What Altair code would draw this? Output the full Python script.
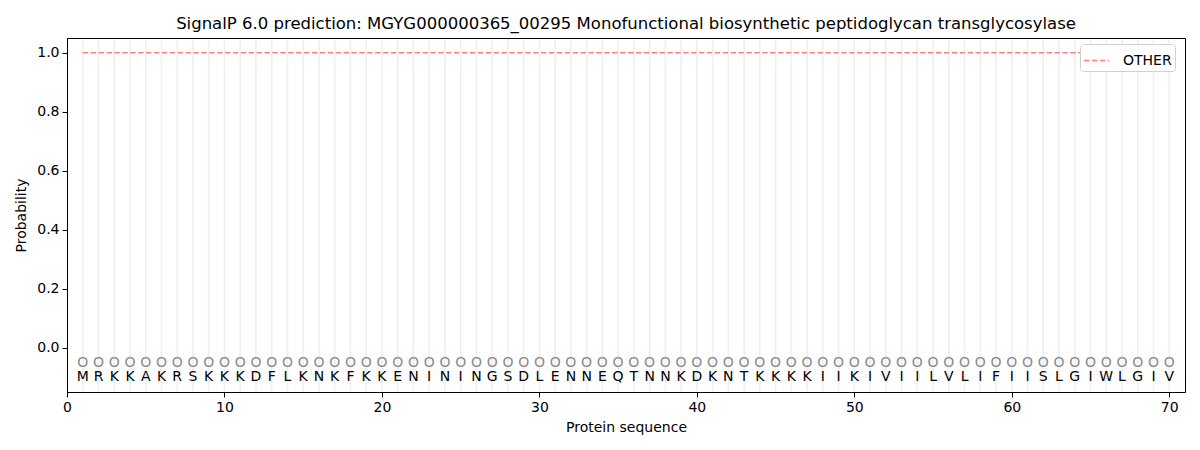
import altair as alt
import pandas as pd

residues = list("MRKKAKRSKKKDFLKNKFKKENININGSDLENNEQTNNKDKNTKKKKIIKIVIILVLIFIISLGIWLGIV")
positions = list(range(1, 71))
prob_other = [1.0, 1.0, 1.0, 1.0, 1.0, 1.0, 1.0, 1.0, 1.0, 1.0,
              1.0, 1.0, 1.0, 1.0, 1.0, 1.0, 1.0, 1.0, 1.0, 1.0,
              1.0, 1.0, 1.0, 1.0, 1.0, 1.0, 1.0, 1.0, 1.0, 1.0,
              1.0, 1.0, 1.0, 1.0, 1.0, 1.0, 1.0, 1.0, 1.0, 1.0,
              1.0, 1.0, 1.0, 1.0, 1.0, 1.0, 1.0, 1.0, 1.0, 1.0,
              1.0, 1.0, 1.0, 1.0, 1.0, 1.0, 1.0, 1.0, 1.0, 1.0,
              1.0, 1.0, 1.0, 1.0, 1.0, 1.0, 1.0, 1.0, 1.0, 1.0]
pred_labels = ["O"] * 70
label_y = -0.05
residue_y = -0.1
x_ticks = [0, 10, 20, 30, 40, 50, 60, 70]
y_ticks = [0.0, 0.2, 0.4, 0.6, 0.8, 1.0]

df = pd.DataFrame({
    "pos": positions,
    "res": residues,
    "prob": prob_other,
    "lab": pred_labels,
    "series": ["OTHER"] * 70,
})

FONT = "DejaVu Sans"
FS = 14
xs = alt.Scale(domain=[0, 71], nice=False, zero=False)
ys = alt.Scale(domain=[-0.15, 1.05], nice=False, zero=False)

xaxis = alt.Axis(values=x_ticks, title="Protein sequence", grid=False, labelFontSize=FS,
                 titleFontSize=FS, labelFont=FONT, titleFont=FONT, labelColor="black",
                 titleColor="black", tickColor="black", domainColor="black", tickSize=5,
                 labelPadding=3, titlePadding=6, titleFontWeight="normal", format="d",
                 labelFlush=False)
yaxis = alt.Axis(values=y_ticks, title="Probability", grid=False, labelFontSize=FS,
                 titleFontSize=FS, labelFont=FONT, titleFont=FONT, labelColor="black",
                 titleColor="black", tickColor="black", domainColor="black", tickSize=5,
                 labelPadding=3, titlePadding=8, titleFontWeight="normal", format=".1f",
                 labelFlush=False)

base = alt.Chart(df)

grid = base.mark_rule(color="#efefef", strokeWidth=1.6).encode(
    x=alt.X("pos:Q", scale=xs, axis=xaxis),
    y=alt.value(1),
    y2=alt.value(353),
)

line = base.mark_line(strokeDash=[5.5, 2.4], strokeWidth=1.6).encode(
    x=alt.X("pos:Q", scale=xs, axis=xaxis),
    y=alt.Y("prob:Q", scale=ys, axis=yaxis),
    color=alt.Color("series:N",
                    scale=alt.Scale(domain=["OTHER"], range=["#ff8080"]),
                    legend=alt.Legend(title=None, orient="none", legendX=1013, legendY=6,
                                      symbolType="stroke", symbolStrokeWidth=1.6,
                                      symbolDash=[5.5, 2.4], symbolSize=625,
                                      labelFontSize=FS, labelFont=FONT, labelColor="black",
                                      strokeColor="#d0d0d0", cornerRadius=3, padding=3,
                                      fillColor="white", labelOffset=13)),
)

marks_o = base.mark_text(fontSize=FS, font=FONT, color="#8a8a8a").encode(
    x=alt.X("pos:Q", scale=xs, axis=xaxis),
    y=alt.Y("y:Q", scale=ys, axis=yaxis),
    text="lab:N",
).transform_calculate(y=str(label_y))

letters = base.mark_text(fontSize=FS, font=FONT, color="black").encode(
    x=alt.X("pos:Q", scale=xs, axis=xaxis),
    y=alt.Y("y:Q", scale=ys, axis=yaxis),
    text="res:N",
).transform_calculate(y=str(residue_y))

chart = alt.layer(grid, line, marks_o, letters).properties(
    width=1118, height=354,
    title=alt.Title("SignalP 6.0 prediction: MGYG000000365_00295 Monofunctional biosynthetic peptidoglycan transglycosylase",
                    fontSize=16.5, font=FONT, fontWeight="normal", color="black",
                    anchor="middle", frame="group", offset=6),
    autosize=alt.AutoSizeParams(type="none"),
    padding={"left": 59, "top": 30, "right": 7, "bottom": 50},
).configure_view(stroke="black", strokeWidth=1)

chart.save("out.html", embed_options={"renderer": "svg", "actions": False})
